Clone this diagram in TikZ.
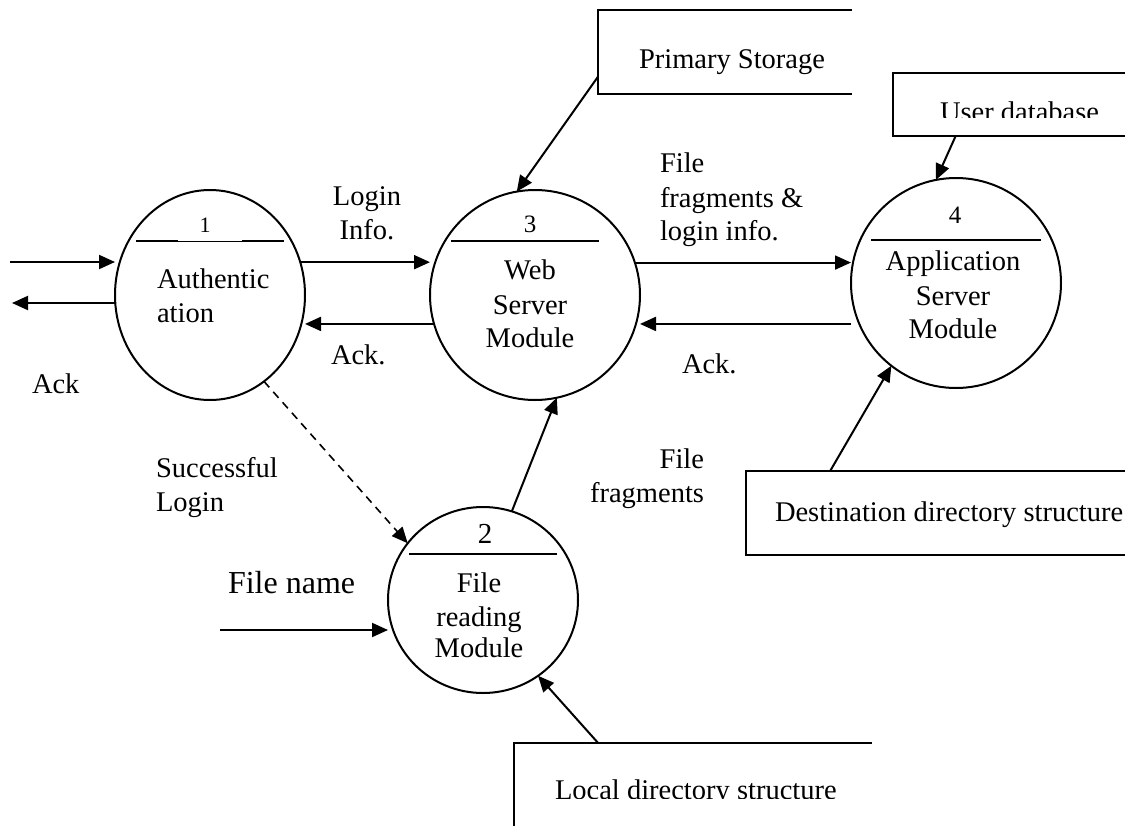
\documentclass[tikz,border=0pt]{standalone}
\usepackage{fontspec}
\setmainfont{Liberation Serif}
\usetikzlibrary{shapes.geometric,arrows.meta,calc}
\newcommand\dfdfont{\fontsize{28.5}{34}\selectfont}
\begin{document}
\begin{tikzpicture}[x=1pt,y=-1pt,
  every node/.style={inner sep=0pt,outer sep=0pt,font=\dfdfont},
  proc/.style={ellipse,draw,line width=2pt},
  store/.style={rectangle},
  storeline/.style={line width=2pt},
  divider/.style={line width=2pt},
  flow/.style={line width=2pt,-{Triangle[length=16pt,width=14pt]}},
  dflow/.style={flow,line width=1.6pt,dash pattern=on 8pt off 6pt},
  lbl/.style={anchor=base west},
  lblc/.style={anchor=base},
  lble/.style={anchor=base east},
  num/.style={anchor=base,font=\fontsize{#1}{#1}\selectfont}
]
\useasboundingbox (0,0) rectangle (1141,825);

% processes
\node[proc,minimum width=190pt,minimum height=210pt] (c1) at (210,295) {};
\node[proc,minimum width=210pt,minimum height=210pt] (c3) at (535,295) {};
\node[proc,minimum width=210pt,minimum height=210pt] (c4) at (956,283) {};
\node[proc,minimum width=190pt,minimum height=186pt] (c2) at (483,600) {};

% process numbers and dividers
\node[num=22] (n1) at (205,232) {1};
\draw[line width=1pt] ($(c1.center)+(-74,-54)$) -- ($(c1.center)+(74,-54)$);
\draw[divider] ($(c1.center)+(-74,-54)$) -- ($(c1.center)+(-32,-54)$);
\draw[divider] ($(c1.center)+(32,-54)$) -- ($(c1.center)+(74,-54)$);
\node[num=25] (n3) at (530,232) {3};
\draw[divider] ($(c3.center)+(-84,-54)$) -- ($(c3.center)+(64,-54)$);
\node[num=25] (n4) at (955,223) {4};
\draw[divider] ($(c4.center)+(-85,-43)$) -- ($(c4.center)+(85,-43)$);
\node[num=29] (n2) at (485,543) {2};
\draw[divider] ($(c2.center)+(-74,-46)$) -- ($(c2.center)+(74,-46)$);

% process names
\node[lbl] (t1a) at (157,288) {Authentic};
\node[lbl] (t1b) at (157,322) {ation};
\node[lblc] (t3a) at (530,279) {Web};
\node[lblc] (t3b) at (530,314) {Server};
\node[lblc] (t3c) at (530,347) {Module};
\node[lblc] (t4a) at (953,270) {Application};
\node[lblc] (t4b) at (953,305) {Server};
\node[lblc] (t4c) at (953,338) {Module};
\node[lblc] (t2a) at (479,592) {File};
\node[lblc] (t2b) at (479,626) {reading};
\node[lblc] (t2c) at (479,657) {Module};

% data stores
\node[store,minimum width=254pt,minimum height=84pt] (ps) at (725,52) {};
\draw[storeline] (ps.north east) -- (ps.north west) -- (ps.south west) -- (ps.south east);
\node[lbl] (pst) at (639,68) {Primary Storage};

\node[store,minimum width=232pt,minimum height=63pt] (ud) at (1009,104.5) {};
\draw[storeline] (ud.north east) -- (ud.north west) -- (ud.south west) -- (ud.south east);
\begin{scope}
  \clip (ud.north west) rectangle ($(ud.north east)+(0,44)$);
  \node[lbl] (udt) at (940,121) {User database};
\end{scope}

\node[store,minimum width=379pt,minimum height=84pt] (dd) at (935.5,513) {};
\draw[storeline] (dd.north east) -- (dd.north west) -- (dd.south west) -- (dd.south east);
\node[lbl] (ddt) at (775,521) {Destination directory structure};

\node[store,minimum width=358pt,minimum height=126pt] (lb) at (693,806) {};
\draw[storeline] (lb.north east) -- (lb.north west) -- (lb.south west);
\begin{scope}
  \clip (lb.north west) rectangle ($(lb.north east)+(0,55)$);
  \node[lbl] (lbt) at (555,799) {Local directory structure};
\end{scope}

% external ends
\coordinate (inL) at (10,262);
\coordinate (outL) at (12,303);
\coordinate (fn) at (220,630);

% flows
\draw[flow] (inL) -- (inL -| c1.west);
\draw[flow] (c1.west |- outL) -- (outL);
\draw[flow] (c1.20) -- (c1.20 -| c3.west);
\draw[flow] (c3.196) -- (c3.196 -| c1.east);
\draw[flow] (c3.18) -- (c3.18 -| c4.west);
\draw[flow] (c4.west |- c3.196) -- (c3.east |- c3.196);
\draw[dflow] (c1.302) -- (c2.143);
\draw[flow] (c2.72) -- (c3.282);
\draw[flow] (fn) -- (fn -| c2.west);
\draw[flow] (ps.191) -- (c3.100);
\draw[flow] ($(ud.south west)!0.27!(ud.south east)$) -- (c4.101);
\draw[flow] ($(dd.north west)!0.222!(dd.north east)$) -- (c4.232);
\draw[flow] ($(lb.north west)!0.235!(lb.north east)$) -- (c2.306);

% flow labels
\node[lblc] (l1a) at (367,205) {Login};
\node[lblc] (l1b) at (367,239) {Info.};
\node[lbl] (l2) at (331,364) {Ack.};
\node[lbl] (l3a) at (660,172) {File};
\node[lbl] (l3b) at (660,207) {fragments \&};
\node[lbl] (l3c) at (660,240) {login info.};
\node[lbl] (l4) at (682,373) {Ack.};
\node[lbl] (l5) at (32,393) {Ack};
\node[lbl] (l6a) at (156,477) {Successful};
\node[lbl] (l6b) at (156,511) {Login};
\node[lble] (l7a) at (704,468) {File};
\node[lble] (l7b) at (704,502) {fragments};
\node[lbl,font=\fontsize{32}{36}\selectfont] (l8) at (228,593) {File name};
\end{tikzpicture}
\end{document}
